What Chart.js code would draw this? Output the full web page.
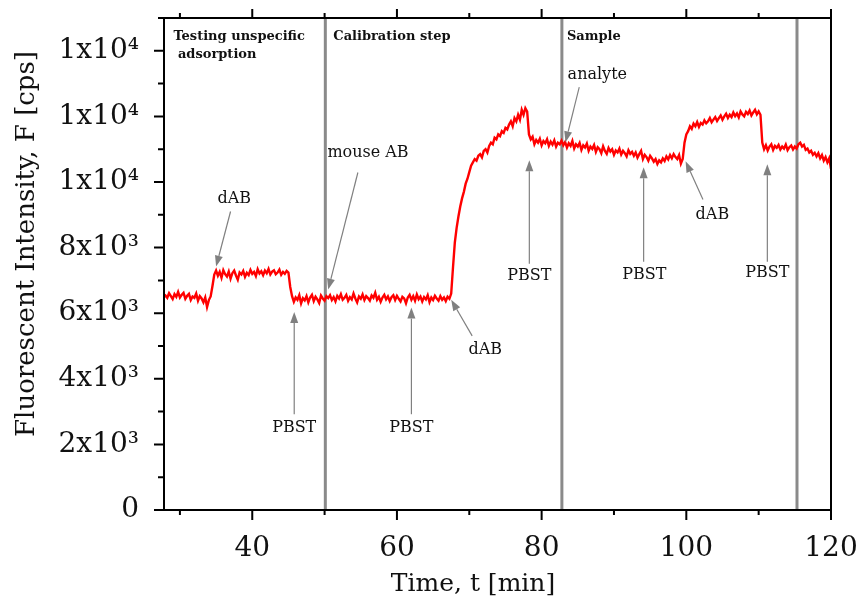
<!DOCTYPE html>
<html>
<head>
<meta charset="utf-8">
<script src="https://cdn.jsdelivr.net/npm/chart.js@4.4.1/dist/chart.umd.min.js"></script>
<style>
  html, body { margin: 0; padding: 0; background: #fff; }
  #wrap { width: 861px; height: 602px; }
</style>
</head>
<body>
<div id="wrap"><canvas id="trace" width="861" height="602"></canvas></div>
<script>
// sampling times [min] and fluorescence [cps]
const timeMin = [
  27.8,
  28.0, 28.25, 28.5, 28.75, 29.0, 29.25, 29.5, 29.75, 30.0, 30.25,
  30.5, 30.75, 31.0, 31.25, 31.5, 31.75, 32.0, 32.25, 32.5, 32.75,
  33.0, 33.25, 33.5, 33.75, 34.0, 34.25, 34.5, 34.75, 35.0, 35.25,
  35.5, 35.75, 36.0, 36.25, 36.5, 36.75, 37.0, 37.25, 37.5, 37.75,
  38.0, 38.25, 38.5, 38.75, 39.0, 39.25, 39.5, 39.75, 40.0, 40.25,
  40.5, 40.75, 41.0, 41.25, 41.5, 41.75, 42.0, 42.25, 42.5, 42.75,
  43.0, 43.25, 43.5, 43.75, 44.0, 44.25, 44.5, 44.75, 45.0, 45.25,
  45.5, 45.75, 46.0, 46.25, 46.5, 46.75, 47.0, 47.25, 47.5, 47.75,
  48.0, 48.25, 48.5, 48.75, 49.0, 49.25, 49.5, 49.75, 50.0, 50.25,
  50.5, 50.75, 51.0, 51.25, 51.5, 51.75, 52.0, 52.25, 52.5, 52.75,
  53.0, 53.25, 53.5, 53.75, 54.0, 54.25, 54.5, 54.75, 55.0, 55.25,
  55.5, 55.75, 56.0, 56.25, 56.5, 56.75, 57.0, 57.25, 57.5, 57.75,
  58.0, 58.25, 58.5, 58.75, 59.0, 59.25, 59.5, 59.75, 60.0, 60.25,
  60.5, 60.75, 61.0, 61.25, 61.5, 61.75, 62.0, 62.25, 62.5, 62.75,
  63.0, 63.25, 63.5, 63.75, 64.0, 64.25, 64.5, 64.75, 65.0, 65.25,
  65.5, 65.75, 66.0, 66.25, 66.5, 66.75, 67.0, 67.25, 67.5, 67.75,
  68.0, 68.25, 68.5, 68.75, 69.0, 69.25, 69.5, 69.75, 70.0, 70.25,
  70.5, 70.75, 71.0, 71.25, 71.5, 71.75, 72.0, 72.25, 72.5, 72.75,
  73.0, 73.25, 73.5, 73.75, 74.0, 74.25, 74.5, 74.75, 75.0, 75.25,
  75.5, 75.75, 76.0, 76.25, 76.5, 76.75, 77.0, 77.25, 77.5, 77.75,
  78.0, 78.25, 78.5, 78.75, 79.0, 79.25, 79.5, 79.75, 80.0, 80.25,
  80.5, 80.75, 81.0, 81.25, 81.5, 81.75, 82.0, 82.25, 82.5, 82.75,
  83.0, 83.25, 83.5, 83.75, 84.0, 84.25, 84.5, 84.75, 85.0, 85.25,
  85.5, 85.75, 86.0, 86.25, 86.5, 86.75, 87.0, 87.25, 87.5, 87.75,
  88.0, 88.25, 88.5, 88.75, 89.0, 89.25, 89.5, 89.75, 90.0, 90.25,
  90.5, 90.75, 91.0, 91.25, 91.5, 91.75, 92.0, 92.25, 92.5, 92.75,
  93.0, 93.25, 93.5, 93.75, 94.0, 94.25, 94.5, 94.75, 95.0, 95.25,
  95.5, 95.75, 96.0, 96.25, 96.5, 96.75, 97.0, 97.25, 97.5, 97.75,
  98.0, 98.25, 98.5, 98.75, 99.0, 99.25, 99.5, 99.75, 100.0, 100.25,
  100.5, 100.75, 101.0, 101.25, 101.5, 101.75, 102.0, 102.25, 102.5, 102.75,
  103.0, 103.25, 103.5, 103.75, 104.0, 104.25, 104.5, 104.75, 105.0, 105.25,
  105.5, 105.75, 106.0, 106.25, 106.5, 106.75, 107.0, 107.25, 107.5, 107.75,
  108.0, 108.25, 108.5, 108.75, 109.0, 109.25, 109.5, 109.75, 110.0, 110.25,
  110.5, 110.75, 111.0, 111.25, 111.5, 111.75, 112.0, 112.25, 112.5, 112.75,
  113.0, 113.25, 113.5, 113.75, 114.0, 114.25, 114.5, 114.75, 115.0, 115.25,
  115.5, 115.75, 116.0, 116.25, 116.5, 116.75, 117.0, 117.25, 117.5, 117.75,
  118.0, 118.25, 118.5, 118.75, 119.0, 119.25, 119.5, 119.75, 120.0
];
const intensity = [
  6500,
  6540, 6470, 6610, 6520, 6430, 6580, 6500, 6650, 6480, 6560,
  6620, 6440, 6530, 6590, 6400, 6510, 6470, 6600, 6380, 6520,
  6450, 6330, 6480, 6190, 6400, 6510, 6830, 7180, 7300, 7140,
  7260, 7080, 7310, 7190, 7120, 7270, 7050, 7220, 7300, 7150,
  7020, 7240, 7180, 7290, 7110, 7230, 7160, 7320, 7200, 7260,
  7130, 7340, 7210, 7280, 7160, 7300, 7220, 7350, 7180, 7270,
  7310, 7190, 7240, 7330, 7170, 7260, 7200, 7290, 7240, 6800,
  6520, 6350, 6480, 6410, 6550, 6300, 6460, 6390, 6520, 6330,
  6480, 6560, 6370, 6500, 6420, 6310, 6540, 6450, 6380, 6520,
  6460, 6550, 6400, 6490, 6360, 6530, 6450, 6580, 6410, 6470,
  6560, 6380, 6490, 6420, 6600, 6450, 6330, 6510, 6440, 6570,
  6400, 6520, 6460, 6380, 6540, 6470, 6620, 6410, 6500, 6350,
  6480, 6560, 6420, 6510, 6370, 6490, 6550, 6400, 6530, 6440,
  6360, 6500, 6450, 6300, 6480, 6560, 6410, 6520, 6380, 6570,
  6430, 6510, 6360, 6490, 6420, 6550, 6340, 6480, 6400, 6530,
  6450, 6380, 6520, 6410, 6480, 6370, 6500, 6440, 6600, 7400,
  8150, 8600, 8950, 9250, 9500, 9700, 9950, 10100, 10300, 10500,
  10600, 10700, 10650, 10800, 10850, 10750, 10950, 11000, 10900, 11100,
  11200, 11150, 11350, 11300, 11450, 11400, 11550, 11500, 11650, 11600,
  11750, 11850, 11700, 11950, 11850, 12050, 11900, 12200, 12050, 12250,
  12150, 11450, 11300, 11380, 11150, 11280, 11200, 11320, 11120, 11250,
  11180, 11300, 11100, 11230, 11140, 11270, 11080, 11200, 11150, 11260,
  11120, 11220, 11050, 11180, 11100, 11250, 11020, 11150, 11080, 11190,
  10980, 11120, 11050, 11170, 10950, 11080, 11010, 11130, 10920, 11060,
  11000, 10880, 11090, 10950, 10860, 11040, 10930, 11000, 10830, 10960,
  10900, 11020, 10840, 10950, 10880, 10780, 10970, 10860, 10920, 10800,
  10900, 10740, 10850, 10950, 10700, 10830, 10760, 10650, 10800, 10720,
  10620, 10700, 10550, 10660, 10600, 10720, 10640, 10780, 10690, 10820,
  10720, 10850, 10760, 10700, 10820, 10560, 10700, 11200, 11450, 11550,
  11700, 11620, 11780, 11700, 11830, 11680, 11800, 11750, 11880, 11790,
  11850, 11950, 11820, 11900, 11980, 11860, 11950, 12030, 11900, 12000,
  12080, 11950, 12050, 11980, 12120, 12010, 12090, 11970, 12150, 12060,
  12000, 12140, 12070, 12180, 12030, 12120, 12200, 12060, 12150, 12050,
  11200, 11000, 11120, 10960, 11080, 11150, 10980, 11100, 11040, 11130,
  10990, 11080, 11020, 11140, 10970, 11060, 11110, 10990, 11080, 11020,
  11150, 11200, 11080, 11130, 10980, 11020, 10900, 10950, 10830, 10890,
  10780, 10880, 10720, 10820, 10650, 10760, 10600, 10720, 10400
];

const xTickValues = [40, 60, 80, 100, 120];
const xMinorValues = [30, 50, 70, 90, 110];
const yTickValues = [0, 2000, 4000, 6000, 8000, 10000, 12000, 14000];
const yTickLabels = ['0', '2x10³', '4x10³', '6x10³', '8x10³', '1x10⁴', '1x10⁴', '1x10⁴'];
const yMinorValues = [1000, 3000, 5000, 7000, 9000, 11000, 13000, 15000];

// step boundaries [min] and their headings
const stepBounds = [50.1, 82.8, 115.3];
const stepNames = [['Testing unspecific', ' adsorption'], ['Calibration step'], ['Sample']];
const stepLabelStart = [29.1, 51.2, 83.5];

// arrow notes: text centre, arrow tail, arrow tip  (min, cps)
const notes = [
  { text: 'dAB',      at: [37.5, 9500],  from: [37.0, 9100],  to: [35.0, 7420] },
  { text: 'mouse AB', at: [56.0, 10875], from: [54.6, 10290], to: [50.5, 6720] },
  { text: 'PBST',     at: [45.8, 2500],  from: [45.8, 2920],  to: [45.8, 6040] },
  { text: 'PBST',     at: [62.0, 2500],  from: [62.0, 2920],  to: [62.0, 6170] },
  { text: 'dAB',      at: [72.2, 4880],  from: [70.4, 5310],  to: [67.5, 6410] },
  { text: 'PBST',     at: [78.3, 7140],  from: [78.3, 7510],  to: [78.3, 10660] },
  { text: 'analyte',  at: [87.7, 13260], from: [85.2, 12890], to: [83.3, 11210] },
  { text: 'PBST',     at: [94.2, 7180],  from: [94.1, 7570],  to: [94.1, 10450] },
  { text: 'dAB',      at: [103.6, 9010], from: [102.3, 9470], to: [99.9, 10630] },
  { text: 'PBST',     at: [111.2, 7240], from: [111.2, 7570], to: [111.2, 10540] }
];

const SERIF = "'DejaVu Serif', 'Liberation Serif', serif";

function drawArrow(ctx, x1, y1, x2, y2) {
  const ang = Math.atan2(y2 - y1, x2 - x1);
  const len = 11, half = 4;
  const bx = x2 - len * Math.cos(ang), by = y2 - len * Math.sin(ang);
  ctx.beginPath();
  ctx.moveTo(x1, y1);
  ctx.lineTo(bx, by);
  ctx.stroke();
  ctx.beginPath();
  ctx.moveTo(x2, y2);
  ctx.lineTo(bx + half * Math.sin(ang), by - half * Math.cos(ang));
  ctx.lineTo(bx - half * Math.sin(ang), by + half * Math.cos(ang));
  ctx.closePath();
  ctx.fill();
}

const decorations = {
  id: 'decorations',
  beforeDatasetsDraw(chart) {
    const { ctx, chartArea: a, scales: { x } } = chart;
    ctx.save();
    ctx.strokeStyle = '#8a8a8a';
    ctx.lineWidth = 3;
    stepBounds.forEach(t => {
      const px = x.getPixelForValue(t);
      ctx.beginPath();
      ctx.moveTo(px, a.top);
      ctx.lineTo(px, a.bottom);
      ctx.stroke();
    });
    ctx.restore();
  },
  afterDatasetsDraw(chart) {
    const { ctx, chartArea: a, scales: { x, y } } = chart;
    ctx.save();

    // frame
    ctx.strokeStyle = '#000';
    ctx.lineWidth = 2;
    ctx.strokeRect(a.left, a.top, a.right - a.left, a.bottom - a.top);

    // tick marks, outward
    ctx.beginPath();
    xTickValues.forEach(v => {
      const px = x.getPixelForValue(v);
      ctx.moveTo(px, a.bottom); ctx.lineTo(px, a.bottom + 10);
      ctx.moveTo(px, a.top); ctx.lineTo(px, a.top - 9);
    });
    xMinorValues.forEach(v => {
      const px = x.getPixelForValue(v);
      ctx.moveTo(px, a.bottom); ctx.lineTo(px, a.bottom + 5);
      ctx.moveTo(px, a.top); ctx.lineTo(px, a.top - 5);
    });
    yTickValues.forEach(v => {
      const py = y.getPixelForValue(v);
      ctx.moveTo(a.left, py); ctx.lineTo(a.left - 10, py);
    });
    yMinorValues.forEach(v => {
      const py = y.getPixelForValue(v);
      ctx.moveTo(a.left, py); ctx.lineTo(a.left - 6, py);
    });
    ctx.stroke();

    // step headings
    ctx.fillStyle = '#111';
    ctx.font = 'bold 13px ' + SERIF;
    ctx.textAlign = 'left';
    ctx.textBaseline = 'middle';
    stepNames.forEach((lines, i) => {
      const px = x.getPixelForValue(stepLabelStart[i]);
      lines.forEach((s, j) => ctx.fillText(s, px, a.top + 19 + j * 18));
    });

    // arrow notes
    ctx.strokeStyle = '#808080';
    ctx.fillStyle = '#808080';
    ctx.lineWidth = 1.2;
    notes.forEach(n => {
      drawArrow(ctx,
        x.getPixelForValue(n.from[0]), y.getPixelForValue(n.from[1]),
        x.getPixelForValue(n.to[0]), y.getPixelForValue(n.to[1]));
    });
    ctx.fillStyle = '#111';
    ctx.font = '16px ' + SERIF;
    ctx.textAlign = 'center';
    notes.forEach(n => {
      ctx.fillText(n.text, x.getPixelForValue(n.at[0]), y.getPixelForValue(n.at[1]));
    });

    // axis titles
    ctx.font = '25px ' + SERIF;
    ctx.fillText('Time, t [min]', 473, 584);
    ctx.translate(27, 244);
    ctx.rotate(-Math.PI / 2);
    ctx.font = '26px ' + SERIF;
    ctx.fillText('Fluorescent Intensity, F [cps]', 0, 0);
    ctx.restore();
  }
};

new Chart(document.getElementById('trace'), {
  type: 'line',
  data: {
    datasets: [{
      data: timeMin.map((t, i) => ({ x: t, y: intensity[i] })),
      borderColor: '#ff0000',
      borderWidth: 2.4,
      pointRadius: 0,
      tension: 0
    }]
  },
  options: {
    responsive: false,
    animation: false,
    devicePixelRatio: 1,
    layout: { padding: { top: 18, right: 30, left: 0, bottom: 0 } },
    plugins: { legend: { display: false }, tooltip: { enabled: false } },
    scales: {
      x: {
        type: 'linear',
        min: 27.8,
        max: 120,
        grid: { display: false },
        border: { display: false },
        afterBuildTicks: s => { s.ticks = xTickValues.map(v => ({ value: v })); },
        afterFit: s => {
          s.height = 92;
          s.paddingLeft = 0;
          s.paddingRight = 0;
        },
        ticks: {
          padding: 14,
          color: '#111',
          autoSkip: false,
          maxRotation: 0,
          font: { family: SERIF, size: 28 }
        }
      },
      y: {
        min: 0,
        max: 15000,
        grid: { display: false },
        border: { display: false },
        afterBuildTicks: s => { s.ticks = yTickValues.map(v => ({ value: v })); },
        afterFit: s => {
          s.width = 164;
          s.paddingTop = 0;
          s.paddingBottom = 0;
        },
        ticks: {
          padding: 17,
          color: '#111',
          autoSkip: false,
          font: { family: SERIF, size: 28 },
          callback: (v, i) => yTickLabels[i]
        }
      }
    }
  },
  plugins: [decorations]
});
</script>
</body>
</html>
